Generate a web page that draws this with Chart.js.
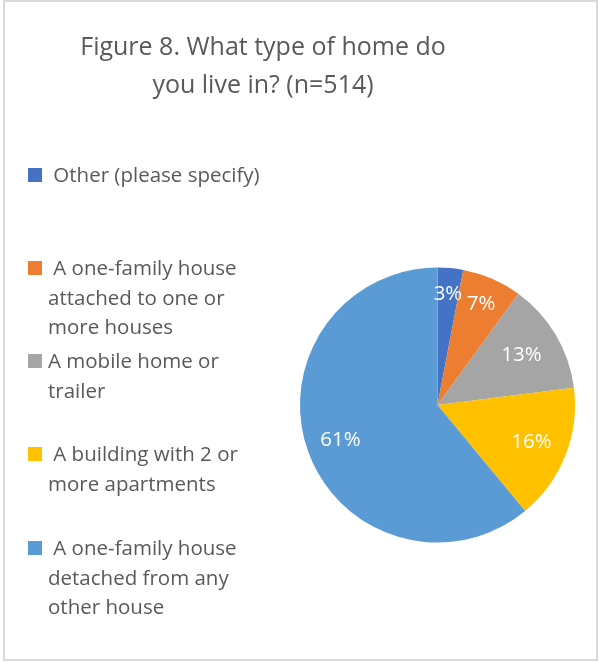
<!DOCTYPE html>
<html>
<head>
<meta charset="utf-8">
<script src="https://cdn.jsdelivr.net/npm/chart.js@4"></script>
<style>
  html, body { margin: 0; padding: 0; background: #fff; }
  #wrap { width: 599px; height: 662px; position: relative; }
</style>
</head>
<body>
<div id="wrap"><canvas id="pieCanvas" width="599" height="662"></canvas></div>
<script>
const titleLines = ["Figure 8. What type of home do", "you live in? (n=514)"];

const categories = [
  "Other (please specify)",
  "A one-family house attached to one or more houses",
  "A mobile home or trailer",
  "A building with 2 or more apartments",
  "A one-family house detached from any other house",
];
// legend text as Excel wrapped it
const legendLines = [
  [" Other (please specify)"],
  [" A one-family house", "attached to one or", "more houses"],
  ["A mobile home or", "trailer"],
  [" A building with 2 or", "more apartments"],
  [" A one-family house", "detached from any", "other house"],
];
const percents = [3, 7, 13, 16, 61];
const colors = ["#4472C4", "#ED7D31", "#A5A5A5", "#FFC000", "#5B9BD5"];

const FONT = "'Open Sans', 'Noto Sans', sans-serif";
const TEXT_GREY = "#595959";

// legend marker tops, picked to match the reference spacing
const legendTops = [168, 261, 354, 447, 541];
const LEGEND_LINE = 29.5;

const decorPlugin = {
  id: "decor",
  beforeDraw(chart) {
    const ctx = chart.ctx;
    ctx.save();
    ctx.strokeStyle = "#D9D9D9";
    ctx.lineWidth = 2;
    ctx.strokeRect(4, 1, 593, 659);

    ctx.fillStyle = TEXT_GREY;
    ctx.font = "25px " + FONT;
    ctx.textAlign = "center";
    ctx.textBaseline = "alphabetic";
    titleLines.forEach((line, i) => ctx.fillText(line, 263, 55 + i * 38));
    ctx.restore();
  },
  afterDraw(chart) {
    const ctx = chart.ctx;
    ctx.save();
    ctx.font = "20.5px " + FONT;
    ctx.textBaseline = "alphabetic";
    ctx.textAlign = "left";
    legendLines.forEach((lines, i) => {
      const top = legendTops[i];
      ctx.fillStyle = colors[i];
      ctx.fillRect(28, top, 14, 14);
      ctx.fillStyle = TEXT_GREY;
      lines.forEach((line, j) => ctx.fillText(line, 48, top + 14 + j * LEGEND_LINE));
    });

    // percentage labels inside the slices
    const meta = chart.getDatasetMeta(0);
    ctx.fillStyle = "#fff";
    ctx.font = "20.5px " + FONT;
    ctx.textAlign = "center";
    ctx.textBaseline = "middle";
    const factors = [0.81, 0.8, 0.71, 0.735, 0.75];
    meta.data.forEach((arc, i) => {
      const mid = (arc.startAngle + arc.endAngle) / 2;
      const r = arc.outerRadius * factors[i];
      ctx.fillText(percents[i] + "%", arc.x + Math.cos(mid) * r, arc.y + Math.sin(mid) * r);
    });
    ctx.restore();
  },
};

new Chart(document.getElementById("pieCanvas"), {
  type: "pie",
  data: {
    labels: categories,
    datasets: [{
      data: percents,
      backgroundColor: colors,
      borderWidth: 0,
    }],
  },
  options: {
    responsive: false,
    animation: false,
    events: [],
    layout: { padding: { left: 300, right: 24, top: 267.5, bottom: 119.5 } },
    plugins: {
      legend: { display: false },
      title: { display: false },
      tooltip: { enabled: false },
    },
  },
  plugins: [decorPlugin],
});
</script>
</body>
</html>
